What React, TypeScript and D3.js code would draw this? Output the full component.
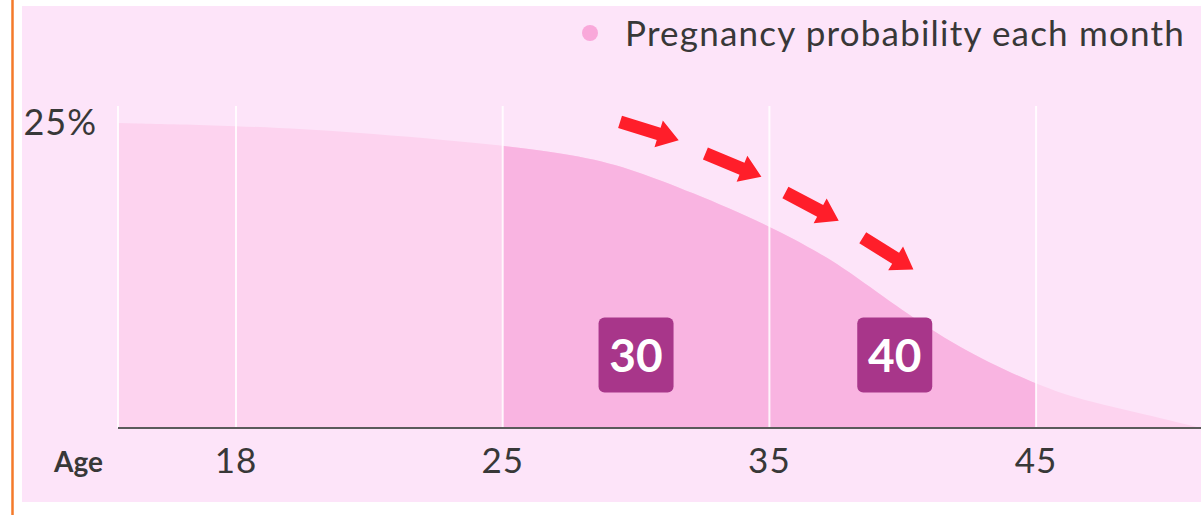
import React from 'react'
import * as d3 from 'd3'

// pregnancy probability per month
const ages = [15, 18, 21, 25, 28, 30, 32, 35, 37, 38, 40, 42, 45, 47, 49, 51]
const probability = [25.0, 24.8, 24.3, 23.2, 22.3, 21.1, 19.4, 16.6, 14.2, 12.8, 9.6, 6.7, 3.5, 2.1, 1.1, 0.0]

const tickAges = [18, 25, 35, 45]
const gridAges = [15, 18, 25, 35, 45]
const highlight = [25, 45]

const boxLabels = ['30', '40']
const boxAges = [30, 39.7]

// arrows: [ageStart, valueStart, ageEnd, valueEnd]
const arrows = [
  [29.4, 25.1, 31.6, 23.6],
  [32.6, 22.5, 34.7, 20.6],
  [35.6, 19.3, 37.6, 17.0],
  [38.5, 15.6, 40.4, 13.0],
]

const legendLabel = 'Pregnancy probability each month'

const width = 1201
const height = 515
const left = 118
const right = 1201
const base = 428
const top = 106
const font = 'Lato, "Noto Sans", sans-serif'

const App = () => {
  const step = 266.7
  const x = d3.scaleLinear()
    .domain([15, 18, 25, 35, 45, 51])
    .range([left, left + 118, left + 118 + step, left + 118 + step * 2, left + 118 + step * 3, right])
  const y = d3.scaleLinear().domain([0, 26.4]).range([base, top])

  const data = ages.map((a, i) => ({ a, v: probability[i] }))
  const area = d3.area<{ a: number, v: number }>()
    .x(d => x(d.a))
    .y0(base)
    .y1(d => y(d.v))
    .curve(d3.curveBasis)

  const arrowPath = (a: number[]) => {
    const x0 = x(a[0]), y0 = y(a[1]), x1 = x(a[2]), y1 = y(a[3])
    const len = Math.hypot(x1 - x0, y1 - y0)
    const ang = Math.atan2(y1 - y0, x1 - x0) * 180 / Math.PI
    const hw = 6.5, hh = 14, hl = 21
    const p = `M0,${-hw} L${len - hl},${-hw} L${len - hl},${-hh} L${len},0 L${len - hl},${hh} L${len - hl},${hw} L0,${hw} Z`
    return { d: p, t: `translate(${x0},${y0}) rotate(${ang})` }
  }

  return (
    <div style={{ position: 'fixed', left: 0, top: 0 }}>
      <svg width={width} height={height} style={{ display: 'block' }}>
        <rect x={0} y={0} width={width} height={height} fill="#ffffff" />
        <line x1={12.5} x2={12.5} y1={0} y2={height} stroke="#f47a2a" strokeWidth={2.5} />
        <rect x={22} y={6} width={width - 22} height={496} fill="#fde4f9" />

        <defs>
          <clipPath id="hl">
            <rect x={x(highlight[0])} y={0} width={x(highlight[1]) - x(highlight[0])} height={base} />
          </clipPath>
        </defs>

        <path d={area(data) || ''} fill="#fdd3ef" />
        <path d={area(data) || ''} fill="#f9b4e1" clipPath="url(#hl)" />

        {gridAges.map(a => (
          <line key={a} x1={x(a)} x2={x(a)} y1={top} y2={base} stroke="#ffffff" strokeOpacity={0.85} strokeWidth={2} />
        ))}

        <line x1={left} x2={right} y1={base} y2={base} stroke="#5a5a5a" strokeWidth={2} />

        {tickAges.map(a => (
          <text key={a} x={x(a)} y={473} textAnchor="middle" fontFamily={font} fontSize={35} letterSpacing={1} fill="#383838">{a}</text>
        ))}
        <text x={103} y={472} textAnchor="end" fontFamily={font} fontSize={28} fontWeight="bold" fill="#383838">Age</text>
        <text x={97} y={135} textAnchor="end" fontFamily={font} fontSize={36} letterSpacing={1} fill="#383838">25%</text>

        {boxLabels.map((l, i) => (
          <g key={l} transform={`translate(${x(boxAges[i])},${355})`}>
            <rect x={-37.5} y={-37.5} width={75} height={75} rx={6} fill="#a8368a" />
            <text x={0} y={17} textAnchor="middle" fontFamily={font} fontSize={46} fontWeight="bold" fill="#ffffff">{l}</text>
          </g>
        ))}

        {arrows.map((a, i) => {
          const ap = arrowPath(a)
          return <path key={i} d={ap.d} transform={ap.t} fill="#ff1e2a" />
        })}

        <circle cx={590} cy={33} r={8} fill="#f9a8da" />
        <text x={625} y={46} fontFamily={font} fontSize={35} letterSpacing={1.2} fill="#383838">{legendLabel}</text>
      </svg>
    </div>
  )
}

export default App
